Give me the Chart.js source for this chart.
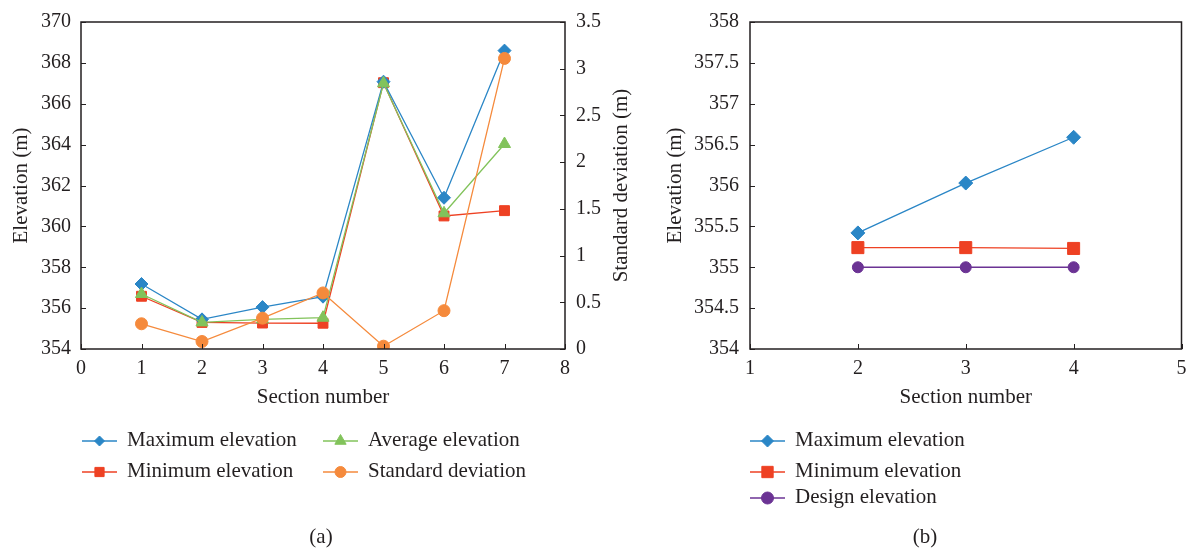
<!DOCTYPE html>
<html>
<head>
<meta charset="utf-8">
<script src="https://cdn.jsdelivr.net/npm/chart.js@4/dist/chart.umd.min.js"></script>
<style>
  body { margin:0; background:#fff; width:1191px; height:550px; overflow:hidden; position:relative; }
  .box { position:absolute; top:0; height:550px; }
</style>
</head>
<body>
<div class="box" style="left:0;width:640px"><canvas id="chartA"></canvas></div>
<div class="box" style="left:640px;width:551px"><canvas id="chartB"></canvas></div>
<script>
// (a) sections 1-7
const sectionsA = [1, 2, 3, 4, 5, 6, 7];
const maxElevA = [357.18, 355.45, 356.05, 356.56, 367.08, 361.40, 368.60];
const minElevA = [356.58, 355.30, 355.27, 355.26, 367.03, 360.51, 360.77];
const avgElevA = [356.69, 355.30, 355.45, 355.53, 367.00, 360.64, 364.03];
const stdDevA  = [0.27, 0.08, 0.33, 0.60, 0.03, 0.41, 3.11];

// (b) sections 2-4
const sectionsB = [2, 3, 4];
const maxElevB = [355.42, 356.03, 356.59];
const minElevB = [355.24, 355.24, 355.23];
const designElevB = [355, 355, 355];

const INK = "#231f20";
const BLUE = "#2a86c6", RED = "#ee4123", GREEN = "#82c35b", ORANGE = "#f58a3c", PURPLE = "#6b3394";
const FONT = "'Liberation Serif', 'DejaVu Serif', serif";

Chart.defaults.font.family = FONT;
Chart.defaults.color = INK;

function pts(xs, ys){ return xs.map((x,i)=>({x:x, y:ys[i]})); }

function series(label, xs, ys, color, style, r, axis, order){
  return {
    label: label, data: pts(xs, ys), yAxisID: axis || "y", order: order,
    borderColor: color, backgroundColor: color, borderWidth: 1.3,
    pointStyle: style, pointRadius: r, pointHoverRadius: r,
    pointBackgroundColor: color, pointBorderColor: color, pointBorderWidth: 1,
    tension: 0
  };
}

const plain = v => String(Math.round(v * 100) / 100);

// frame, inward ticks, legend, right title and caption
function framePlugin(legendItems, caption, rightTitle){
  return {
    id: "frame",
    afterDraw(chart){
      const ctx = chart.ctx, a = chart.chartArea;
      ctx.save();
      ctx.strokeStyle = INK; ctx.lineWidth = 1.5;
      ctx.strokeRect(a.left, a.top, a.right - a.left, a.bottom - a.top);
      ctx.lineWidth = 1;
      const tl = 5;
      chart.scales.x.ticks.forEach(t=>{
        const px = Math.round(chart.scales.x.getPixelForValue(t.value)) + 0.5;
        ctx.beginPath(); ctx.moveTo(px, a.bottom); ctx.lineTo(px, a.bottom - tl); ctx.stroke();
      });
      chart.scales.y.ticks.forEach(t=>{
        const py = Math.round(chart.scales.y.getPixelForValue(t.value)) + 0.5;
        ctx.beginPath(); ctx.moveTo(a.left, py); ctx.lineTo(a.left + tl, py); ctx.stroke();
      });
      if (chart.scales.y1){
        chart.scales.y1.ticks.forEach(t=>{
          const py = Math.round(chart.scales.y1.getPixelForValue(t.value)) + 0.5;
          ctx.beginPath(); ctx.moveTo(a.right, py); ctx.lineTo(a.right - tl, py); ctx.stroke();
        });
      }
      ctx.fillStyle = INK;
      ctx.textBaseline = "middle";
      if (rightTitle){
        ctx.save();
        ctx.font = "21px " + FONT;
        ctx.textAlign = "center";
        ctx.translate(rightTitle.x, (a.top + a.bottom) / 2);
        ctx.rotate(-Math.PI / 2);
        ctx.fillText(rightTitle.text, 0, 0);
        ctx.restore();
      }
      // legend
      ctx.font = "21px " + FONT;
      ctx.textAlign = "left";
      legendItems.forEach(it=>{
        ctx.strokeStyle = it.color; ctx.fillStyle = it.color; ctx.lineWidth = 1.5;
        ctx.beginPath(); ctx.moveTo(it.x, it.y); ctx.lineTo(it.x + 35, it.y); ctx.stroke();
        ctx.lineWidth = 1;
        Chart.helpers.drawPoint(ctx, {pointStyle: it.style, radius: it.r, rotation: 0, borderWidth: 1}, it.x + 17.5, it.y);
        ctx.fillStyle = INK;
        ctx.fillText(it.label, it.x + 45, it.y - 1);
      });
      ctx.textAlign = "center";
      ctx.fillText(caption.text, caption.x, caption.y);
      ctx.restore();
    }
  };
}

const tickFont = {size: 20, family: FONT};
const titleFont = {size: 21, family: FONT};

new Chart(document.getElementById("chartA"), {
  type: "line",
  data: {
    datasets: [
      series("Maximum elevation", sectionsA, maxElevA, BLUE, "rectRot", 6.5, "y", 2),
      series("Minimum elevation", sectionsA, minElevA, RED, "rect", 7, "y", 3),
      series("Average elevation", sectionsA, avgElevA, GREEN, "triangle", 7, "y", 1),
      series("Standard deviation", sectionsA, stdDevA, ORANGE, "circle", 6, "y1", 0)
    ]
  },
  options: {
    responsive: true, maintainAspectRatio: false, animation: false,
    layout: {padding: {left: 0, right: 0, top: 22, bottom: 140}},
    plugins: {legend: {display: false}, tooltip: {enabled: false}},
    scales: {
      x: {
        type: "linear", min: 0, max: 8,
        ticks: {stepSize: 1, font: tickFont, padding: 0, maxRotation: 0, callback: plain},
        grid: {display: false}, border: {display: false},
        title: {display: true, text: "Section number", font: titleFont, padding: {top: 0, bottom: 0}},
        afterFit(s){ s.height = 61; }
      },
      y: {
        position: "left", min: 354, max: 370,
        ticks: {stepSize: 2, font: tickFont, padding: 2, callback: plain},
        grid: {display: false}, border: {display: false},
        title: {display: true, text: "Elevation (m)", font: titleFont, padding: {top: 9, bottom: 0}},
        afterFit(s){ s.width = 81; }
      },
      y1: {
        position: "right", min: 0, max: 3.5,
        ticks: {stepSize: 0.5, font: tickFont, padding: 3, callback: plain},
        grid: {display: false}, border: {display: false},
        title: {display: false},
        afterFit(s){ s.width = 75; }
      }
    }
  },
  plugins: [framePlugin([
    {label: "Maximum elevation", color: BLUE, style: "rectRot", r: 5, x: 82, y: 441},
    {label: "Minimum elevation", color: RED, style: "rect", r: 6.5, x: 82, y: 472},
    {label: "Average elevation", color: GREEN, style: "triangle", r: 6.5, x: 323, y: 441},
    {label: "Standard deviation", color: ORANGE, style: "circle", r: 5.5, x: 323, y: 472}
  ], {text: "(a)", x: 321, y: 537}, {text: "Standard deviation (m)", x: 621})]
});

new Chart(document.getElementById("chartB"), {
  type: "line",
  data: {
    datasets: [
      series("Maximum elevation", sectionsB, maxElevB, BLUE, "rectRot", 7, "y", 0),
      series("Minimum elevation", sectionsB, minElevB, RED, "rect", 8.5, "y", 1),
      series("Design elevation", sectionsB, designElevB, PURPLE, "circle", 5.5, "y", 2)
    ]
  },
  options: {
    responsive: true, maintainAspectRatio: false, animation: false,
    layout: {padding: {left: 0, right: 9, top: 22, bottom: 140}},
    plugins: {legend: {display: false}, tooltip: {enabled: false}},
    scales: {
      x: {
        type: "linear", min: 1, max: 5,
        ticks: {stepSize: 1, font: tickFont, padding: 0, maxRotation: 0, callback: plain},
        grid: {display: false}, border: {display: false},
        title: {display: true, text: "Section number", font: titleFont, padding: {top: 0, bottom: 0}},
        afterFit(s){ s.height = 61; }
      },
      y: {
        position: "left", min: 354, max: 358,
        ticks: {stepSize: 0.5, font: tickFont, padding: 3, callback: plain},
        grid: {display: false}, border: {display: false},
        title: {display: true, text: "Elevation (m)", font: titleFont, padding: {top: 23, bottom: 0}},
        afterFit(s){ s.width = 110; }
      }
    }
  },
  plugins: [framePlugin([
    {label: "Maximum elevation", color: BLUE, style: "rectRot", r: 6, x: 110, y: 441},
    {label: "Minimum elevation", color: RED, style: "rect", r: 8, x: 110, y: 472},
    {label: "Design elevation", color: PURPLE, style: "circle", r: 6, x: 110, y: 498}
  ], {text: "(b)", x: 285, y: 537}, null)]
});
</script>
</body>
</html>
